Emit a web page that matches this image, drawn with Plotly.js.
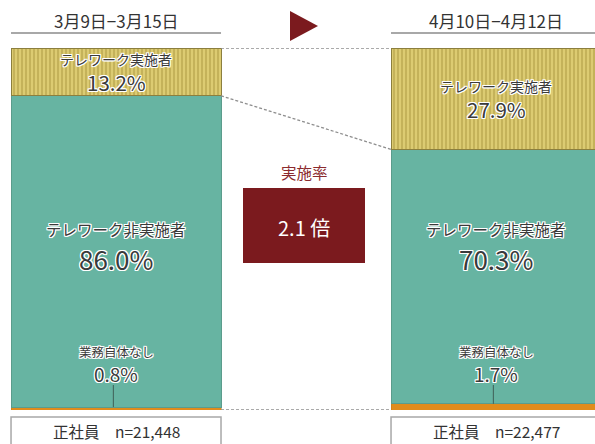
<!DOCTYPE html>
<html>
<head>
<meta charset="utf-8">
<script src="https://cdn.plot.ly/plotly-3.0.1.min.js"></script>
<style>html,body{margin:0;padding:0;background:#fff;}#chart{width:595px;height:444px;}</style>
</head>
<body>
<div id="chart"></div>
<script>
// ---- data ----
const categories = ['3月9日−3月15日', '4月10日−4月12日'];
const seriesNames = ['業務自体なし', 'テレワーク非実施者', 'テレワーク実施者'];
const noWork = [0.8, 1.7];
const nonTele = [86.0, 70.3];
const tele = [13.2, 27.9];
const sampleLabels = ['正社員　n=21,448', '正社員　n=22,477'];
const ratioTitle = '実施率';
const ratioValue = '2.1 倍';

// ---- style ----
const FONT = '"Noto Sans CJK JP", "Noto Sans", sans-serif';
const W = 0.5526;
const TXT = '#3a3a3a';
const RED = '#7b1a1e';
const OUT = '1px 1px 0 #fff, -1px -1px 0 #fff, 1px -1px 0 #fff, -1px 1px 0 #fff, 0 1px 0 #fff, 0 -1px 0 #fff, 1px 0 0 #fff, -1px 0 0 #fff';
const pxToPaperY = p => (410 - p) / 362;
const pxToPaperX = p => p / 595;

const traces = [
  {type:'bar', name:seriesNames[0], x:categories, y:noWork, width:W,
   marker:{color:'#e08c1c', line:{color:'#c07818', width:0.5}}, hoverinfo:'skip'},
  {type:'bar', name:seriesNames[1], x:categories, y:nonTele, width:W,
   marker:{color:'#67b4a2', line:{color:'#5b9c8c', width:1}}, hoverinfo:'skip'},
  {type:'bar', name:seriesNames[2], x:categories, y:tele, width:W,
   marker:{color:'#d8c66c', line:{color:'#8c7f3e', width:1},
     pattern:{shape:'|', bgcolor:'#dccb72', fgcolor:'#b4a14a', size:4, solidity:0.3}}, hoverinfo:'skip'}
];

const shapes = [];
const annotations = [];
const ann = o => annotations.push(Object.assign({showarrow:false, xanchor:'center', yanchor:'middle', borderpad:0}, o));

categories.forEach((c, i) => {
  // header underline
  shapes.push({type:'line', xref:'x', yref:'paper', x0:i - W/2, x1:i + W/2 + (i===1?0.05:0),
    y0:pxToPaperY(33), y1:pxToPaperY(33), line:{color:'#a8a8a8', width:2}});
  ann({xref:'x', yref:'paper', x:i, y:pxToPaperY(21), text:c,
    font:{family:FONT, size:17, color:'#333'}});
  // bottom sample box
  shapes.push({type:'rect', xref:'x', yref:'paper', x0:i - W/2, x1:i + W/2 + (i===1?0.05:0),
    y0:pxToPaperY(417), y1:pxToPaperY(446), line:{color:'#a8a8a8', width:1.5}, fillcolor:'rgba(0,0,0,0)'});
  ann({xref:'x', yref:'paper', x:i, y:pxToPaperY(431), text:sampleLabels[i],
    font:{family:FONT, size:15.5, color:'#333'}});

  // tele labels (segment midpoint)
  const teleMid = noWork[i] + nonTele[i] + tele[i] / 2;
  ann({xref:'x', yref:'y', x:i, y:teleMid, yshift:13, text:seriesNames[2],
    font:{family:FONT, size:14, color:TXT, shadow:OUT}});
  ann({xref:'x', yref:'y', x:i, y:teleMid, yshift:-10, text:tele[i].toFixed(1) + '%',
    font:{family:FONT, size:20.5, color:TXT, shadow:OUT}});

  // non-tele labels
  ann({xref:'x', yref:'paper', x:i, y:pxToPaperY(229), text:seriesNames[1],
    font:{family:FONT, size:15.5, color:TXT, shadow:OUT}});
  ann({xref:'x', yref:'paper', x:i, y:pxToPaperY(258), text:nonTele[i].toFixed(1) + '%',
    font:{family:FONT, size:26, color:TXT, shadow:OUT}});

  // no-work labels
  ann({xref:'x', yref:'paper', x:i, y:pxToPaperY(351), text:seriesNames[0],
    font:{family:FONT, size:12.5, color:TXT, shadow:OUT}});
  ann({xref:'x', yref:'paper', x:i, y:pxToPaperY(373), text:noWork[i].toFixed(1) + '%',
    font:{family:FONT, size:19, color:TXT, shadow:OUT}});
  // leader line
  shapes.push({type:'line', xref:'x', yref:'paper', x0:i - 0.007, x1:i - 0.007,
    y0:pxToPaperY(385), y1:pxToPaperY(410) + noWork[i] / 100, line:{color:'#3f5f57', width:1}});
});

// dashed connectors between bars
const dash = {color:'#8e8e8e', width:1.3, dash:'3px,2px'};
shapes.push({type:'line', xref:'x', yref:'y', x0:W/2, x1:1 - W/2, y0:100, y1:100, line:dash});
shapes.push({type:'line', xref:'x', yref:'y', x0:W/2, x1:1 - W/2,
  y0:noWork[0] + nonTele[0], y1:noWork[1] + nonTele[1], line:dash});
shapes.push({type:'line', xref:'x', yref:'y', x0:W/2, x1:1 - W/2, y0:0, y1:0, line:dash});

// triangle
shapes.push({type:'path', xref:'paper', yref:'paper',
  path:`M ${pxToPaperX(290)} ${pxToPaperY(11)} L ${pxToPaperX(318)} ${pxToPaperY(26)} L ${pxToPaperX(290)} ${pxToPaperY(41)} Z`,
  fillcolor:RED, line:{width:0}});

// ratio box
ann({xref:'paper', yref:'paper', x:pxToPaperX(304), y:pxToPaperY(172), text:ratioTitle,
  font:{family:FONT, size:15.5, color:'#8b2a2e'}});
shapes.push({type:'rect', xref:'paper', yref:'paper', x0:pxToPaperX(243), x1:pxToPaperX(365),
  y0:pxToPaperY(263), y1:pxToPaperY(188), fillcolor:RED, line:{width:0}});
ann({xref:'paper', yref:'paper', x:pxToPaperX(304), y:pxToPaperY(227), text:ratioValue,
  font:{family:FONT, size:20, color:'#ffffff'}});

const layout = {
  width:595, height:444,
  margin:{l:0, r:0, t:48, b:34, pad:0},
  barmode:'stack',
  showlegend:false,
  paper_bgcolor:'#ffffff', plot_bgcolor:'#ffffff',
  xaxis:{type:'category', range:[-0.3053, 1.2605], visible:false, fixedrange:true},
  yaxis:{range:[0, 100], visible:false, fixedrange:true},
  shapes:shapes, annotations:annotations
};

Plotly.newPlot('chart', traces, layout, {displayModeBar:false, staticPlot:true});
</script>
</body>
</html>
